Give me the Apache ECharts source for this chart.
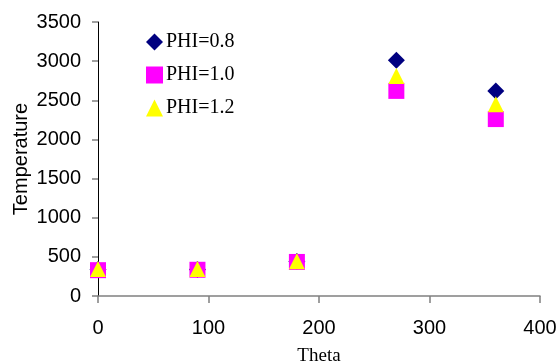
<!DOCTYPE html>
<html><head><meta charset="utf-8">
<script src="https://cdn.jsdelivr.net/npm/echarts@6/dist/echarts.min.js"></script>
<style>html,body{margin:0;padding:0;background:#fff}#c{width:559px;height:363px}</style>
</head><body><div id="c"></div>
<script>
const theta = [0, 90, 180, 270, 360];
const phi08 = [340, 340, 440, 3010, 2620];
const phi10 = [330, 335, 435, 2620, 2260];
const phi12 = [345, 345, 445, 2810, 2450];
const seriesNames = ['PHI=0.8', 'PHI=1.0', 'PHI=1.2'];
const xTicks = [0, 100, 200, 300, 400];
const yTicks = [0, 500, 1000, 1500, 2000, 2500, 3000, 3500];

const pair = (ys) => theta.map((t, i) => [t, ys[i]]);
const chart = echarts.init(document.getElementById('c'));
chart.setOption({
  animation: false,
  backgroundColor: '#fff',
  grid: { left: 98, right: 19, top: 22, bottom: 67, containLabel: false, outerBoundsMode: 'none' },
  legend: {
    orient: 'vertical', left: 141, top: 27, itemGap: 13,
    itemWidth: 17, itemHeight: 17,
    textStyle: { fontFamily: 'Liberation Serif', fontSize: 20, color: '#000', padding: [0, 0, 0, -2] },
    data: [
      { name: seriesNames[0], icon: 'diamond' },
      { name: seriesNames[1], icon: 'rect' },
      { name: seriesNames[2], icon: 'triangle' }
    ]
  },
  xAxis: {
    type: 'value', min: xTicks[0], max: xTicks[xTicks.length - 1], interval: 100,
    name: 'Theta', nameLocation: 'middle', nameGap: 51, nameMoveOverlap: false,
    nameTextStyle: { fontFamily: 'Liberation Serif', fontSize: 19, color: '#000' },
    axisLine: { show: true, onZero: false, lineStyle: { color: '#808080', width: 1.5 } },
    axisTick: { show: true, length: 7, lineStyle: { color: '#808080', width: 1.5 } },
    axisLabel: { margin: 22, fontFamily: 'Liberation Sans', fontSize: 20, color: '#000', formatter: v => String(v) },
    splitLine: { show: false }
  },
  yAxis: {
    type: 'value', min: yTicks[0], max: yTicks[yTicks.length - 1], interval: 500,
    name: 'Temperature', nameLocation: 'middle', nameGap: 67, nameMoveOverlap: false,
    nameTextStyle: { fontFamily: 'Liberation Sans', fontSize: 20, color: '#000' },
    axisLine: { show: true, onZero: false, lineStyle: { color: '#000', width: 1 } },
    axisTick: { show: true, length: 6, lineStyle: { color: '#808080', width: 1.5 } },
    axisLabel: { margin: 17, fontFamily: 'Liberation Sans', fontSize: 20, color: '#000', formatter: v => String(v) },
    splitLine: { show: false }
  },
  series: [
    { name: seriesNames[0], type: 'scatter', symbol: 'diamond', symbolSize: 17,
      itemStyle: { color: '#000080', opacity: 1 }, data: pair(phi08) },
    { name: seriesNames[1], type: 'scatter', symbol: 'rect', symbolSize: 16,
      itemStyle: { color: '#ff00ff', opacity: 1 }, data: pair(phi10) },
    { name: seriesNames[2], type: 'scatter', symbol: 'triangle', symbolSize: 16,
      itemStyle: { color: '#ffff00', opacity: 1 }, data: pair(phi12) }
  ]
});
</script></body></html>
